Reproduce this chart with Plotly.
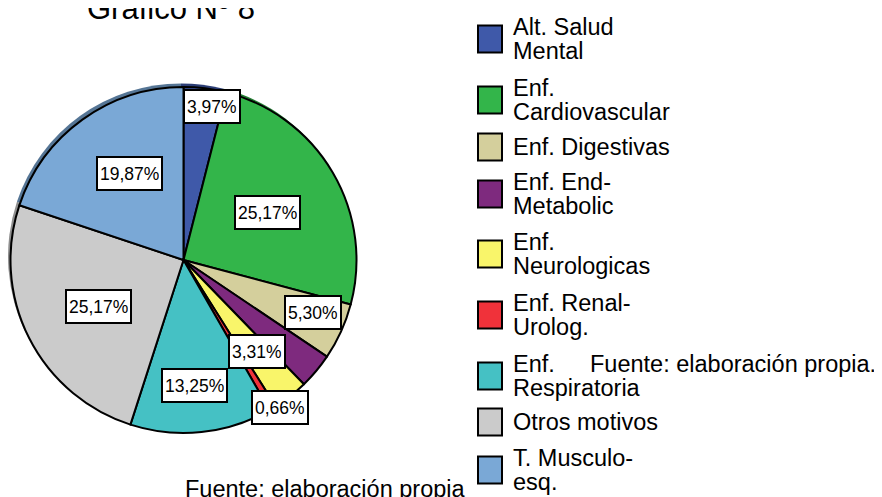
import math
import plotly.graph_objects as go

# ---------------- data ----------------
categories = ["Alt. Salud<br>Mental", "Enf.<br>Cardiovascular", "Enf. Digestivas",
              "Enf. End-<br>Metabolic", "Enf.<br>Neurologicas", "Enf. Renal-<br>Urolog.",
              "Enf.<br>Respiratoria", "Otros motivos", "T. Musculo-<br>esq."]
values = [3.97, 25.17, 5.30, 3.31, 3.31, 0.66, 13.25, 25.17, 19.87]
colors = ["#3F59A9", "#33B54A", "#D4CF9C", "#7E2A7E", "#F9F56A",
          "#F0323A", "#45C1C4", "#CBCBCB", "#7AA8D6"]
title_text = "Grafico Nº 8"
source_text = "Fuente: elaboración propia."

# ---------------- layout helpers ----------------
W, H = 882, 497
OFF = 8  # page body margin
FONT = "Liberation Sans, Arial, sans-serif"
def X(px):
    return (px - OFF) / W
def Y(py):
    return 1 - (py - OFF) / H
def clamp(v):
    return min(1.0, max(0.0, v))

CX, CY, R = 183.5, 260.0, 173.0   # pie centre / radius in page pixels

def darken(hexc, f=0.7):
    hexc = hexc.lstrip("#")
    r, g, b = (int(hexc[i:i + 2], 16) for i in (0, 2, 4))
    return "rgb(%d,%d,%d)" % (r * f, g * f, b * f)

labels_plain = [c.replace("<br>", " ").replace("- ", "-") for c in categories]

fig = go.Figure()
# shadow pie (offset up-left)
sx, sy = -2.5, -3.5
fig.add_trace(go.Pie(
    labels=labels_plain, values=values, sort=False, direction="clockwise", rotation=0,
    marker=dict(colors=[darken(c) for c in colors], line=dict(width=0)),
    textinfo="none", hoverinfo="skip", showlegend=False,
    domain=dict(x=[clamp(X(CX - R + sx)), clamp(X(CX + R + sx))],
                y=[clamp(Y(CY + R + sy)), clamp(Y(CY - R + sy))]),
))
# main pie
fig.add_trace(go.Pie(
    labels=labels_plain, values=values, sort=False, direction="clockwise", rotation=0,
    marker=dict(colors=colors, line=dict(color="black", width=2)),
    textinfo="none", hoverinfo="label+percent", showlegend=False,
    domain=dict(x=[clamp(X(CX - R)), clamp(X(CX + R))],
                y=[clamp(Y(CY + R)), clamp(Y(CY - R))]),
))

annotations = []
shapes = []

# percentage labels in boxes, placed along each slice's mid angle
label_rfrac = [0.90, 0.56, 0.81, None, 0.68, 1.02, 0.73, 0.56, 0.59]
label_dtheta = [3.4, 0.8, -2.5, 0, -0.5, -2.3, 1.2, -2.0, 4.1]
total = sum(values)
cum = 0.0
for v, rf, dt in zip(values, label_rfrac, label_dtheta):
    mid = (cum + v / 2) / total * 360.0
    cum += v
    if rf is None:
        continue
    th = math.radians(mid + dt)
    px = CX + rf * R * math.sin(th)
    py = CY - rf * R * math.cos(th)
    annotations.append(dict(
        x=X(px), y=Y(py), xref="paper", yref="paper", showarrow=False,
        text=("%.2f%%" % v).replace(".", ","),
        font=dict(family=FONT, size=17.5, color="black"),
        bgcolor="white", bordercolor="black", borderwidth=2, borderpad=2,
        height=27, xanchor="center", yanchor="middle",
    ))

# manual legend
leg_centers = [39, 100, 147, 194, 254, 315, 376, 422, 470]
for cat, col, cy in zip(categories, colors, leg_centers):
    shapes.append(dict(type="rect", xref="paper", yref="paper",
                       x0=X(478), x1=X(502), y0=Y(cy + 13.5), y1=Y(cy - 13.5),
                       fillcolor=col, line=dict(color="black", width=2)))
    lines = cat.split("<br>")
    n = len(lines)
    for i, ln in enumerate(lines):
        ly = cy + (i - (n - 1) / 2) * 24.5
        annotations.append(dict(
            x=X(511), y=Y(ly), xref="paper", yref="paper", showarrow=False,
            text=ln, font=dict(family=FONT, size=23.5, color="black"),
            xanchor="left", yanchor="middle",
        ))

# title and source notes
annotations.append(dict(x=X(85), y=Y(8.5), xref="paper", yref="paper", showarrow=False,
                        text=title_text, font=dict(family=FONT, size=31, color="black"),
                        xanchor="left", yanchor="middle"))
annotations.append(dict(x=X(588), y=Y(364), xref="paper", yref="paper", showarrow=False,
                        text=source_text, font=dict(family=FONT, size=23.5, color="black"),
                        xanchor="left", yanchor="middle"))
annotations.append(dict(x=X(183), y=Y(488.5), xref="paper", yref="paper", showarrow=False,
                        text=source_text.rstrip("."), font=dict(family=FONT, size=23.5, color="black"),
                        xanchor="left", yanchor="middle"))

fig.update_layout(
    width=W, height=H, margin=dict(l=0, r=0, t=0, b=0),
    paper_bgcolor="white", plot_bgcolor="white",
    showlegend=False, annotations=annotations, shapes=shapes,
)
fig.write_html("out.html")
